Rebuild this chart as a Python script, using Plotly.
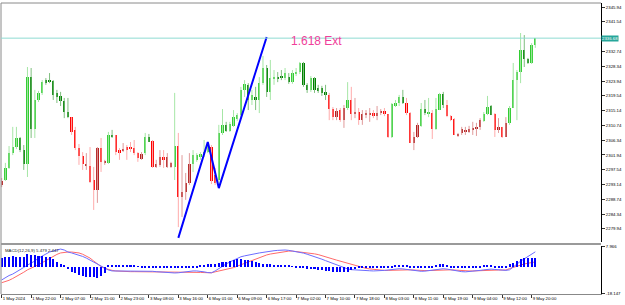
import plotly.graph_objects as go

# ---------------- data ----------------
time_labels = ["1 May 2024", "1 May 22:00", "2 May 07:00", "2 May 15:00", "2 May 23:00",
               "3 May 08:00", "3 May 16:00", "6 May 01:00", "6 May 09:00", "6 May 17:00",
               "7 May 02:00", "7 May 10:00", "7 May 18:00", "8 May 03:00", "8 May 11:00",
               "8 May 19:00", "9 May 04:00", "9 May 12:00", "9 May 20:00"]
time_label_bars = [0, 8, 16, 24, 32, 40, 48, 56, 64, 72, 80, 88, 96, 104, 112, 120, 128, 136, 144]

opens = [2293.0, 2294.5, 2298.1, 2302.5, 2304.3, 2307.0, 2303.4, 2299.3, 2325.1, 2309.7,
         2318.3, 2320.4, 2324.2, 2324.2, 2323.9, 2320.4, 2319.5, 2318.0, 2314.7, 2313.2,
         2309.4, 2304.0, 2301.6, 2298.7, 2298.7, 2294.5, 2291.5, 2304.0, 2299.6, 2299.6,
         2307.9, 2307.9, 2303.4, 2303.4, 2304.3, 2304.3, 2304.0, 2302.5, 2300.8, 2302.5,
         2307.3, 2306.1, 2298.4, 2299.0, 2301.3, 2298.4, 2298.4, 2298.4, 2304.6, 2289.5,
         2290.9, 2293.6, 2299.3, 2300.5, 2301.3, 2301.9, 2302.8, 2304.3, 2296.0, 2294.5,
         2308.5, 2310.9, 2309.1, 2310.6, 2312.6, 2313.8, 2321.3, 2322.8, 2318.3, 2319.2,
         2318.3, 2323.3, 2327.8, 2320.7, 2324.5, 2325.1, 2325.4, 2324.8, 2325.1, 2323.6,
         2326.0, 2326.6, 2329.3, 2322.8, 2321.3, 2324.8, 2321.9, 2321.9, 2320.7, 2319.8,
         2315.6, 2313.2, 2315.3, 2312.3, 2315.9, 2318.3, 2314.1, 2314.7, 2312.3, 2314.1,
         2314.1, 2314.4, 2313.5, 2314.4, 2315.0, 2314.1, 2307.3, 2316.5, 2317.4, 2319.2,
         2317.4, 2314.4, 2305.5, 2307.3, 2310.6, 2315.6, 2314.4, 2314.4, 2309.7, 2315.3,
         2320.1, 2316.8, 2313.5, 2312.6, 2307.6, 2308.5, 2308.8, 2308.8, 2309.4, 2309.7,
         2310.3, 2312.1, 2314.1, 2316.5, 2314.1, 2309.4, 2310.3, 2307.3, 2311.5, 2315.9,
         2324.2, 2326.6, 2333.2, 2330.5, 2329.3, 2334.6]
highs = [2295.1, 2299.6, 2304.6, 2310.3, 2310.3, 2307.3, 2304.9, 2328.1, 2327.8, 2321.3,
         2321.0, 2324.2, 2324.8, 2326.3, 2324.2, 2321.3, 2320.7, 2318.9, 2318.9, 2313.2,
         2310.3, 2305.2, 2302.8, 2302.5, 2304.3, 2298.4, 2304.3, 2307.0, 2300.5, 2308.8,
         2309.4, 2307.9, 2304.0, 2305.5, 2304.9, 2305.8, 2306.4, 2302.8, 2302.8, 2308.5,
         2308.2, 2306.4, 2300.5, 2303.4, 2303.4, 2302.5, 2299.9, 2320.4, 2308.5, 2301.9,
         2296.6, 2302.5, 2303.4, 2302.5, 2302.8, 2306.4, 2305.8, 2304.9, 2298.1, 2310.9,
         2315.6, 2311.8, 2311.8, 2315.3, 2314.4, 2322.2, 2324.2, 2323.3, 2321.3, 2322.2,
         2325.1, 2331.4, 2328.7, 2330.2, 2327.2, 2326.6, 2327.2, 2327.8, 2326.3, 2327.2,
         2327.8, 2329.6, 2329.6, 2323.3, 2325.4, 2325.1, 2322.8, 2322.5, 2322.8, 2320.4,
         2316.2, 2315.9, 2315.9, 2316.8, 2323.6, 2322.2, 2318.9, 2315.9, 2315.3, 2315.3,
         2315.9, 2315.3, 2316.5, 2315.6, 2315.9, 2314.1, 2317.4, 2318.3, 2319.8, 2321.3,
         2318.9, 2314.7, 2308.8, 2311.5, 2317.4, 2318.3, 2318.9, 2315.3, 2318.9, 2320.4,
         2320.7, 2318.3, 2313.8, 2312.9, 2308.5, 2310.3, 2310.3, 2310.6, 2311.8, 2311.5,
         2312.9, 2314.7, 2319.5, 2316.8, 2314.4, 2312.9, 2310.3, 2313.2, 2316.5, 2329.3,
         2327.2, 2338.2, 2337.6, 2330.8, 2335.2, 2336.7]
lows = [2292.4, 2294.2, 2297.8, 2301.9, 2303.7, 2302.8, 2297.5, 2295.4, 2307.0, 2307.0,
        2317.7, 2319.8, 2322.8, 2323.3, 2318.3, 2317.4, 2316.5, 2312.9, 2312.9, 2307.9,
        2303.4, 2299.0, 2297.5, 2297.5, 2293.6, 2285.6, 2287.7, 2296.9, 2299.0, 2299.3,
        2307.0, 2301.9, 2300.5, 2302.8, 2300.5, 2302.8, 2301.9, 2299.9, 2300.5, 2301.9,
        2305.8, 2298.1, 2298.1, 2298.4, 2298.1, 2298.1, 2298.1, 2294.5, 2280.5, 2283.5,
        2288.6, 2293.0, 2296.9, 2299.9, 2300.5, 2301.3, 2302.5, 2293.3, 2293.0, 2292.4,
        2307.9, 2308.8, 2308.8, 2310.3, 2312.1, 2313.2, 2319.2, 2315.3, 2316.8, 2315.3,
        2314.4, 2322.8, 2319.2, 2318.3, 2322.8, 2323.6, 2324.2, 2324.2, 2323.1, 2323.1,
        2325.4, 2326.0, 2322.2, 2320.4, 2320.7, 2320.4, 2320.4, 2319.5, 2318.3, 2312.3,
        2312.3, 2312.3, 2311.8, 2310.0, 2315.3, 2312.3, 2312.9, 2310.9, 2310.9, 2312.9,
        2311.8, 2312.9, 2312.3, 2313.8, 2313.5, 2307.0, 2307.0, 2316.2, 2316.5, 2317.1,
        2313.8, 2305.5, 2303.4, 2307.0, 2310.3, 2313.8, 2313.2, 2306.7, 2309.4, 2315.3,
        2315.9, 2313.2, 2312.0, 2307.9, 2307.3, 2307.9, 2307.9, 2308.5, 2307.9, 2307.6,
        2309.4, 2311.8, 2313.8, 2313.8, 2307.3, 2308.5, 2307.0, 2307.3, 2310.9, 2315.9,
        2312.3, 2323.3, 2328.1, 2329.0, 2329.0, 2333.8]
closes = [2294.2, 2298.1, 2302.5, 2304.3, 2307.0, 2303.4, 2299.3, 2325.1, 2309.7, 2318.3,
          2320.4, 2323.6, 2323.3, 2323.9, 2319.8, 2319.2, 2318.0, 2314.7, 2313.2, 2308.8,
          2304.0, 2301.6, 2299.3, 2299.3, 2293.9, 2291.5, 2304.0, 2299.9, 2299.9, 2307.9,
          2307.3, 2302.8, 2302.5, 2303.7, 2303.4, 2303.7, 2302.5, 2301.0, 2302.2, 2307.3,
          2305.8, 2298.4, 2299.3, 2301.3, 2300.5, 2301.3, 2299.6, 2304.6, 2289.5, 2290.9,
          2293.6, 2299.3, 2301.9, 2301.9, 2302.2, 2302.8, 2304.9, 2294.2, 2293.6, 2308.5,
          2310.9, 2309.1, 2311.2, 2313.2, 2313.8, 2321.3, 2323.1, 2318.3, 2319.8, 2318.3,
          2323.3, 2327.8, 2320.7, 2324.8, 2325.1, 2324.5, 2324.8, 2326.3, 2323.6, 2326.3,
          2326.6, 2329.3, 2322.8, 2321.3, 2324.8, 2321.3, 2321.0, 2320.4, 2319.8, 2315.6,
          2313.2, 2315.0, 2312.3, 2315.9, 2318.3, 2314.1, 2314.7, 2312.3, 2314.1, 2314.4,
          2314.4, 2313.5, 2314.4, 2315.0, 2314.1, 2307.3, 2317.1, 2317.4, 2319.2, 2317.4,
          2314.4, 2305.5, 2307.3, 2310.9, 2315.6, 2314.4, 2314.7, 2309.7, 2315.6, 2320.1,
          2316.8, 2313.5, 2312.3, 2307.9, 2308.2, 2309.7, 2309.4, 2309.7, 2310.0, 2310.3,
          2312.3, 2314.1, 2316.2, 2313.8, 2309.4, 2310.3, 2307.3, 2311.5, 2315.9, 2324.2,
          2326.6, 2333.2, 2330.5, 2329.3, 2334.6, 2336.7]
# 1 = uptrend colouring, -1 = downtrend colouring
trend = [-1, 1, 1, 1, 1, 1, 1, 1, 1, 1,
         1, 1, 1, 1, 1, 1, 1, 1, 1, -1,
         -1, -1, -1, -1, -1, -1, -1, -1, -1, 1,
         1, -1, -1, -1, -1, -1, -1, -1, -1, 1,
         1, -1, -1, -1, -1, -1, -1, 1, -1, -1,
         -1, -1, 1, 1, 1, 1, 1, -1, -1, 1,
         1, 1, 1, 1, 1, 1, 1, 1, 1, 1,
         1, 1, 1, 1, 1, 1, 1, 1, 1, 1,
         1, 1, 1, 1, 1, 1, 1, 1, 1, -1,
         -1, -1, -1, -1, 1, -1, -1, -1, -1, -1,
         -1, -1, -1, -1, -1, -1, 1, 1, 1, 1,
         -1, -1, -1, -1, 1, 1, 1, -1, 1, 1,
         1, -1, -1, -1, -1, -1, -1, -1, -1, -1,
         -1, 1, 1, 1, -1, -1, -1, -1, 1, 1,
         1, 1, 1, 1, 1, 1]

macd_main = [-10.5, -9.2, -8.1, -7.3, -6.2, -5.1, -3.7, -2.4, -1.3, -0.2,
             1.4, 2.5, 3.6, 4.7, 5.3, 5.8, 6.3, 5.8, 4.7, 4.2,
             3.6, 3.1, 2.3, 1.4, 0.35, -0.7, -1.8, -3.2, -4.3, -5.1,
             -5.6, -5.6, -5.7, -5.6, -5.6, -5.5, -5.6, -5.7, -5.8, -5.7,
             -5.7, -5.8, -6.0, -6.2, -6.4, -6.4, -6.7, -6.7, -6.6, -6.3,
             -6.0, -5.7, -5.6, -5.6, -5.7, -6.1, -6.5, -6.6, -5.6, -4.2,
             -2.9, -1.8, -0.7, 0.3, 1.3, 2.1, 2.6, 3.1, 3.5, 3.9,
             4.2, 4.5, 4.9, 5.2, 5.4, 5.6, 5.8, 5.8, 5.6, 5.3,
             5.0, 4.7, 4.1, 3.5, 2.9, 2.2, 1.5, 0.8, 0.0, -0.8,
             -1.6, -2.4, -3.2, -3.9, -4.5, -4.9, -5.1, -5.2, -5.3, -5.4,
             -5.5, -5.6, -5.6, -5.5, -5.3, -5.1, -4.8, -4.5, -4.4, -4.5,
             -4.8, -5.2, -5.6, -5.8, -5.8, -5.7, -5.5, -5.2, -4.8, -4.5,
             -4.4, -4.6, -5.0, -5.4, -5.8, -6.0, -6.1, -6.0, -5.8, -5.6,
             -5.3, -5.0, -4.7, -4.6, -4.8, -5.1, -5.3, -5.3, -5.0, -3.6,
             -1.9, -0.3, 1.0, 2.3, 3.6, 4.8]
macd_signal = [-12.0, -11.4, -10.7, -9.7, -8.6, -7.8, -6.3, -5.0, -4.2, -3.2,
               -2.2, -1.1, 0.1, 1.3, 2.3, 3.4, 4.2, 4.5, 4.7, 4.7,
               4.5, 4.2, 3.5, 2.4, 1.4, -0.2, -1.8, -3.2, -4.2, -4.9,
               -5.3, -5.6, -5.8, -5.9, -6.0, -6.0, -6.0, -6.0, -6.0, -6.0,
               -6.0, -6.0, -6.1, -6.1, -6.2, -6.2, -6.3, -6.3, -6.4, -6.4,
               -6.4, -6.4, -6.4, -6.4, -6.4, -6.5, -6.7, -6.6, -6.1, -5.7,
               -5.3, -4.9, -4.5, -3.8, -3.0, -2.2, -1.4, -0.6, 0.2, 1.0,
               1.8, 2.6, 3.1, 3.6, 4.0, 4.4, 4.8, 5.0, 5.2, 5.2,
               5.0, 4.7, 4.5, 4.3, 4.1, 3.7, 3.3, 2.8, 2.2, 1.5,
               0.9, 0.3, -0.3, -0.9, -1.5, -2.1, -2.7, -3.3, -3.8, -4.2,
               -4.5, -4.8, -5.0, -5.2, -5.3, -5.3, -5.2, -5.1, -5.0, -4.9,
               -4.9, -5.0, -5.1, -5.3, -5.4, -5.4, -5.4, -5.3, -5.2, -5.0,
               -4.9, -4.9, -5.0, -5.1, -5.3, -5.5, -5.6, -5.6, -5.6, -5.5,
               -5.4, -5.3, -5.1, -5.0, -5.0, -5.1, -5.1, -5.1, -4.3, -3.6,
               -2.9, -2.3, -1.8, -1.4, -1.0, -0.7]
macd_hist = [4.57, 5.11, 5.44, 5.82, 5.44, 5.11, 5.44, 6.91, 6.36, 6.36,
             5.82, 5.82, 5.44, 5.11, 4.03, 2.72, 1.47, 0.65, -1.41, -2.72,
             -3.59, -4.52, -5.06, -5.44, -5.44, -5.77, -6.31, -5.0, -3.5, 0.5,
             0.6, 0.7, 0.8, 0.7, 0.6, 0.5, 0.4, 0.3, -0.7, -0.9,
             -0.9, -0.8, -0.8, -0.6, -0.5, -0.6, -0.8, -0.9, -0.9, -0.8,
             -0.7, -0.6, -0.4, -0.2, 0.92, 1.1, 1.3, 1.5, 1.7, 1.85,
             2.3, 2.8, 3.26, 3.6, 4.03, 4.03, 3.8, 3.4, 2.9, 2.3,
             1.85, 1.7, 1.55, 1.4, 1.2, 1.0, 0.8, 0.6, 0.4, 0.2,
             -0.3, -0.87, -0.87, -0.98, -1.25, -1.41, -1.58, -1.80, -2.18, -2.45,
             -2.72, -3.05, -3.05, -2.88, -2.72, -1.80, -1.25, -0.4, -0.3, -0.3,
             -0.2, -0.2, -0.2, -0.3, -0.3, -0.3, -0.4, 0.8, 0.9, 0.9,
             0.7, -0.6, -0.7, -0.7, -0.6, -0.5, -0.4, -0.3, 1.0, 1.3,
             1.3, 1.0, -0.5, -0.7, -0.8, -0.8, -0.8, -0.7, -0.6, -0.5,
             -0.3, 0.9, 1.1, 0.9, -0.3, -0.4, -0.3, -0.2, 1.47, 2.18,
             3.37, 4.03, 4.57, 4.57, 4.57, 4.57]
macd_label = "MACD(12,26,9) 5.479 2.447"
macd_min, macd_max = -18.147, 7.966
hist_offset = 3.3   # histogram zero sits below the indicator zero

price_ticks = [2345.94, 2341.54, 2332.74, 2328.34, 2323.94, 2319.54, 2315.14, 2310.74,
               2306.34, 2301.94, 2297.54, 2293.14, 2288.74, 2284.34, 2279.94]
bid_price = 2336.68

wave_bars = [48, 56, 59, 72]
wave_prices = [2277.3, 2305.8, 2292.1, 2337.0]
ext_label = "1.618 Ext"
ext_label_bar = 78

# ---------------- styling ----------------
FONT = "Liberation Sans, Arial, sans-serif"
SMALL = 4.3
body_colors = {(1, 1): "#32cd32", (1, -1): "#008000", (-1, -1): "#ff0000", (-1, 1): "#b22222"}
wick_colors = {(1, 1): "#a6e6a6", (1, -1): "#7fbf7f", (-1, -1): "#ffabab", (-1, 1): "#e09a9a"}

n = len(opens)
idx = list(range(n))

fig = go.Figure()

groups = {}
for i in idx:
    d = 1 if closes[i] >= opens[i] else -1
    groups.setdefault((trend[i], d), []).append(i)

for key, sel in groups.items():
    wx, wy = [], []
    for i in sel:
        wx += [i, i, None]
        wy += [lows[i], highs[i], None]
    fig.add_trace(go.Scatter(x=wx, y=wy, mode="lines", xaxis="x2", yaxis="y",
                             line=dict(color=wick_colors[key], width=1),
                             hoverinfo="skip", showlegend=False))
for key, sel in groups.items():
    fig.add_trace(go.Bar(x=sel,
                         y=[max(abs(closes[i] - opens[i]), 0.3) for i in sel],
                         base=[min(opens[i], closes[i]) for i in sel],
                         xaxis="x2", yaxis="y", width=0.62,
                         marker=dict(color=body_colors[key], line=dict(width=0)),
                         showlegend=False, hoverinfo="skip"))

# wave / expansion lines
fig.add_trace(go.Scatter(x=wave_bars, y=wave_prices, mode="lines", xaxis="x2", yaxis="y",
                         line=dict(color="#0000ff", width=2), showlegend=False, hoverinfo="skip"))

# MACD panel
fig.add_trace(go.Bar(x=idx, y=macd_hist, xaxis="x", yaxis="y3", width=0.55,
                     marker=dict(color="#0000ff", line=dict(width=0)),
                     showlegend=False, hoverinfo="skip"))
fig.add_trace(go.Scatter(x=idx, y=macd_signal, mode="lines", xaxis="x", yaxis="y2",
                         line=dict(color="#ff6a6a", width=1), showlegend=False, hoverinfo="skip"))
fig.add_trace(go.Scatter(x=idx, y=macd_main, mode="lines", xaxis="x", yaxis="y2",
                         line=dict(color="#6d6dff", width=1), showlegend=False, hoverinfo="skip"))

H = 305
top_px, main_bot_px, macd_top_px, bot_px = 3, 242, 246, 294
plot_h = bot_px - top_px
main_dom = [(bot_px - main_bot_px) / plot_h, 1]
macd_dom = [0, (bot_px - macd_top_px) / plot_h]
sep_y = (bot_px - 244) / plot_h

x_range = [-0.19, 162.85]

fig.update_layout(
    width=625, height=H,
    margin=dict(l=1, r=24, t=top_px, b=H - bot_px, pad=0, autoexpand=False),
    paper_bgcolor="white", plot_bgcolor="white",
    showlegend=False, barmode="overlay", bargap=0,
    font=dict(family=FONT, size=SMALL, color="black"),
    xaxis=dict(domain=[0, 1], anchor="y2", range=x_range, automargin=False,
               tickvals=time_label_bars, ticktext=time_labels, tickangle=0,
               ticks="outside", ticklen=3, tickcolor="#333333", tickwidth=1,
               ticklabelposition="outside right", tickfont=dict(size=SMALL, color="black"),
               showgrid=False, zeroline=False, showline=True, linecolor="#888888", linewidth=1),
    xaxis2=dict(domain=[0, 1], anchor="y", matches="x", range=x_range, automargin=False,
                showticklabels=False, ticks="", showgrid=False, zeroline=False, showline=False),
    yaxis=dict(domain=main_dom, anchor="x2", side="right", automargin=False,
               range=[2276.07, 2347.13],
               tickvals=price_ticks, ticktext=[f"{v:.2f}" for v in price_ticks],
               ticks="outside", ticklen=3, tickcolor="#333333",
               tickfont=dict(size=SMALL, color="black"),
               showgrid=False, zeroline=False, showline=True, linecolor="black", linewidth=1),
    yaxis2=dict(domain=macd_dom, anchor="x", side="right", automargin=False,
                range=[macd_min - 0.01, macd_max + 0.01],
                tickvals=[macd_max, macd_min], ticktext=[f"{macd_max:.3f}", f"{macd_min:.3f}"],
                ticks="outside", ticklen=3, tickcolor="#333333",
                tickfont=dict(size=SMALL, color="black"),
                showgrid=False, zeroline=False, showline=True, linecolor="black", linewidth=1),
    yaxis3=dict(overlaying="y2", anchor="x", side="right", automargin=False,
                range=[macd_min - 0.01 + hist_offset, macd_max + 0.01 + hist_offset],
                visible=False, showgrid=False, zeroline=False),
    shapes=[
        dict(type="line", xref="paper", yref="paper", x0=0, x1=1, y0=1, y1=1,
             line=dict(color="#8a8a8a", width=1)),
        dict(type="line", xref="paper", yref="paper", x0=0, x1=0, y0=0, y1=1,
             line=dict(color="#8a8a8a", width=1)),
        dict(type="line", xref="paper", yref="paper", x0=0, x1=1, y0=sep_y, y1=sep_y,
             line=dict(color="#9a9a9a", width=2)),
        dict(type="line", xref="paper", yref="y", x0=0, x1=1, y0=bid_price, y1=bid_price,
             line=dict(color="#8edbd2", width=1)),
    ],
    annotations=[
        dict(text=ext_label, xref="x2", yref="y", x=ext_label_bar, y=bid_price, yshift=-3,
             xanchor="left", yanchor="middle", showarrow=False,
             font=dict(family=FONT, size=12, color="#f0409a")),
        dict(text=f"{bid_price:.2f}", xref="paper", yref="y", x=1, y=bid_price,
             xanchor="left", yanchor="middle", showarrow=False, bgcolor="#26a69a",
             borderpad=0, font=dict(family=FONT, size=SMALL, color="white")),
        dict(text=macd_label, xref="paper", yref="paper", x=0.004, y=macd_dom[1],
             xanchor="left", yanchor="top", showarrow=False,
             font=dict(family=FONT, size=SMALL, color="#222222")),
    ],
)

fig.write_html("out.html")
